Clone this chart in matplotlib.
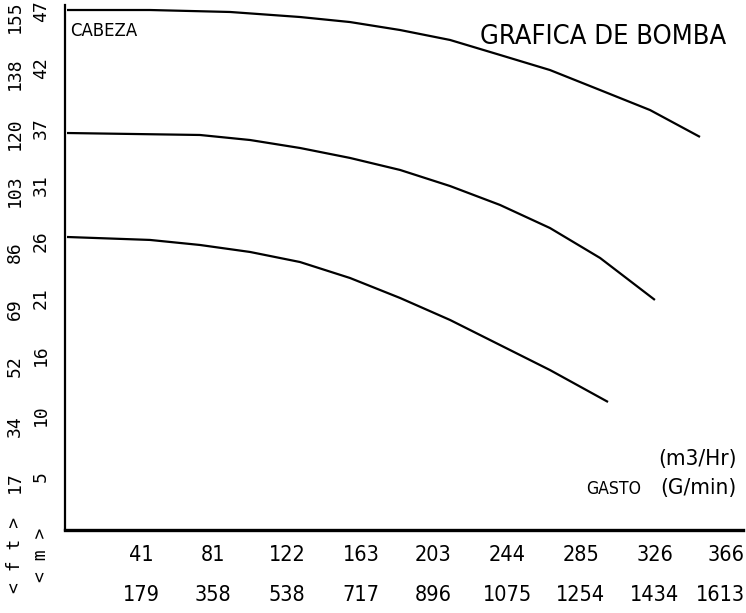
import matplotlib
matplotlib.use("Agg")
import matplotlib.pyplot as plt
from matplotlib import font_manager as fm
from matplotlib.transforms import blended_transform_factory

# ---------------- data ----------------
q_ticks_m3h = [41, 81, 122, 163, 203, 244, 285, 326, 366]
q_ticks_gpm = [179, 358, 538, 717, 896, 1075, 1254, 1434, 1613]
h_ticks_ft = [17, 34, 52, 69, 86, 103, 120, 138, 155]
h_ticks_m = [5, 10, 16, 21, 26, 31, 37, 42, 47]

# curve 1 (largest impeller)
q1 = [0, 46.0, 90.4, 129.2, 156.9, 184.7, 212.4, 240.1, 267.8, 295.6, 323.3, 351.0]
h1 = [47.56, 47.56, 47.38, 46.92, 46.46, 45.73, 44.82, 43.45, 42.07, 40.24, 38.41, 35.95]
# curve 2
q2 = [0, 73.7, 101.5, 129.2, 156.9, 184.7, 212.4, 240.1, 267.8, 295.6, 326.0]
h2 = [36.31, 36.13, 35.67, 34.94, 34.03, 32.93, 31.46, 29.73, 27.62, 24.88, 21.04]
# curve 3
q3 = [0, 46.0, 73.7, 101.5, 129.2, 156.9, 184.7, 212.4, 240.1, 267.8, 300.0]
h3 = [26.80, 26.53, 26.07, 25.43, 24.51, 23.05, 21.22, 19.21, 16.92, 14.63, 11.71]

# ---------------- fonts ----------------
cond_file = None
for f in fm.fontManager.ttflist:
    low = f.fname.lower()
    if ('condensed' in low or 'narrow' in low) and 'bold' not in low and 'oblique' not in low \
            and 'italic' not in low and 'mono' not in low:
        cond_file = f.fname
        break
if cond_file:
    def fp(size):
        return fm.FontProperties(fname=cond_file, size=size)
    scale = 1.15
else:
    def fp(size):
        return fm.FontProperties(family='DejaVu Sans', size=size)
    scale = 1.0
mono = 'DejaVu Sans Mono'

W, H = 746, 613
fig = plt.figure(figsize=(W / 100, H / 100), dpi=100)

ax_l, ax_r, ax_b, ax_t = 65, 743, 530, 5
ax = fig.add_axes([ax_l / W, (H - ax_b) / H, (ax_r - ax_l) / W, (ax_b - ax_t) / H])

px_per_q = 73.4 / 40.7
px_per_h = 57.4 / 5.25
ax.set_xlim(-(67 - ax_l) / px_per_q, (ax_r - 67) / px_per_q)
ax.set_ylim(0, (ax_b - ax_t) / px_per_h)

for q, h in [(q1, h1), (q2, h2), (q3, h3)]:
    ax.plot(q, h, color='black', lw=1.6, solid_capstyle='butt')

for s in ['top', 'right']:
    ax.spines[s].set_visible(False)
ax.spines['left'].set_linewidth(1.6)
ax.spines['bottom'].set_linewidth(2.4)
ax.set_xticks([])
ax.set_yticks([])

# x tick labels (two rows)
tx = blended_transform_factory(ax.transData, fig.transFigure)
tf = fig.transFigure
n = len(q_ticks_m3h)
for i, (qm, qg) in enumerate(zip(q_ticks_m3h, q_ticks_gpm)):
    if i == n - 1:
        kw = dict(transform=tf, ha='right')
        x = 745 / W
    else:
        kw = dict(transform=tx, ha='center')
        x = qm
    ax.text(x, 1 - 555 / H, str(qm), va='center', fontproperties=fp(13.5 * scale),
            clip_on=False, **kw)
    ax.text(x, 1 - 595 / H, str(qg), va='center', fontproperties=fp(13.5 * scale),
            clip_on=False, **kw)

# y tick labels (rotated, two columns)
ty = blended_transform_factory(fig.transFigure, ax.transData)
for ft, m in zip(h_ticks_ft, h_ticks_m):
    hpos = ft / 3.281
    ax.text(15 / W, hpos - 20 / px_per_h, str(ft), transform=ty, rotation=90,
            rotation_mode='anchor', ha='left', va='center', fontsize=13,
            family=mono, clip_on=False)
    ax.text(41 / W, hpos - 9 / px_per_h, str(m), transform=ty, rotation=90,
            rotation_mode='anchor', ha='left', va='center', fontsize=13,
            family=mono, clip_on=False)

fig.text(15 / W, 1 - 555 / H, '< f t >', rotation=90, ha='center', va='center',
         fontsize=13, family=mono)
fig.text(41 / W, 1 - 555 / H, '< m >', rotation=90, ha='center', va='center',
         fontsize=13, family=mono)

# annotations
fig.text(70 / W, 1 - 31 / H, 'CABEZA', ha='left', va='center', fontproperties=fp(11.5 * scale))
fig.text(603 / W, 1 - 37 / H, 'GRAFICA DE BOMBA', ha='center', va='center',
         fontproperties=fp(17 * scale))
fig.text(641 / W, 1 - 489 / H, 'GASTO', ha='right', va='center', fontproperties=fp(11 * scale))
fig.text(698 / W, 1 - 459 / H, '(m3/Hr)', ha='center', va='center', fontproperties=fp(14 * scale))
fig.text(698 / W, 1 - 488 / H, '(G/min)', ha='center', va='center', fontproperties=fp(14 * scale))

fig.savefig('out.png', dpi=100, facecolor='white')
